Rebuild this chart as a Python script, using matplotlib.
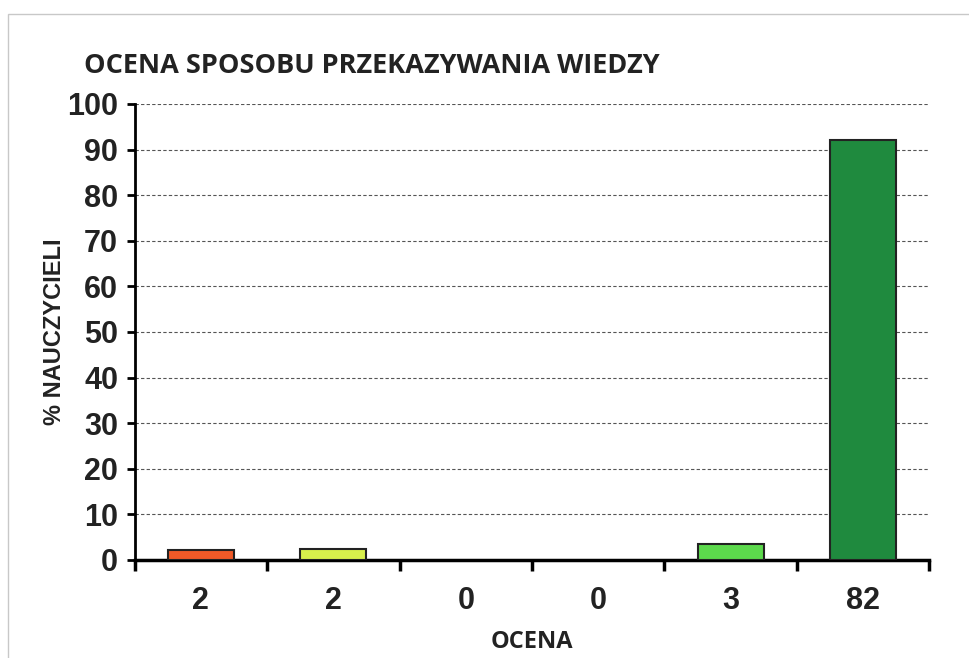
import matplotlib
matplotlib.use('Agg')
import matplotlib.pyplot as plt
from matplotlib.patches import Rectangle

counts = ['2', '2', '0', '0', '3', '82']
percent = [2.2, 2.4, 0, 0, 3.5, 92.1]
colors = ['#F05A28', '#D8F04C', '#F05A28', '#F05A28', '#5CD94C', '#1F8A3E']

fig = plt.figure(figsize=(9.69, 6.58), dpi=100)
ax = fig.add_axes([0.139, 0.149, 0.82, 0.693])

# frame around the chart
fig.patches.append(Rectangle((0.008, -0.01), 1.1, 0.988, transform=fig.transFigure,
                             fill=False, edgecolor='#c8c8c8', lw=1))

x = range(len(percent))
widths = [1.5 if p > 0 else 0 for p in percent]
ax.bar(x, percent, width=0.5, color=colors, edgecolor='#222222', linewidth=widths, zorder=3)

ax.set_xlim(-0.5, len(percent) - 0.5)
ax.set_ylim(0, 100)
ax.set_yticks(range(0, 101, 10))
ax.yaxis.grid(True, linestyle=(0, (3, 2)), color='#555555', linewidth=0.8)
ax.set_axisbelow(True)

ax.set_xticks([i - 0.5 for i in range(len(percent) + 1)])
ax.set_xticklabels([])
ax.set_xticks(list(x), minor=True)
ax.set_xticklabels(counts, minor=True)
ax.tick_params(axis='x', which='minor', length=0, pad=19)
ax.tick_params(axis='x', which='major', length=8, width=2.5, direction='out')
ax.tick_params(axis='y', length=6, width=2, direction='out', pad=6)

for lbl in ax.get_xticklabels(minor=True) + ax.get_yticklabels():
    lbl.set_fontfamily('Liberation Sans')
    lbl.set_fontweight('bold')
    lbl.set_fontsize(22)
    lbl.set_color('#222222')

for s in ['top', 'right']:
    ax.spines[s].set_visible(False)
ax.spines['left'].set_linewidth(2)
ax.spines['bottom'].set_linewidth(2.5)

ax.set_ylabel('% NAUCZYCIELI', fontfamily='Liberation Sans', fontweight='bold',
              fontsize=17, color='#222222', labelpad=1)
ax.set_xlabel('OCENA', fontfamily='Open Sans', fontweight='bold',
              fontsize=17, color='#222222', labelpad=10)

fig.text(0.087, 0.9, 'OCENA SPOSOBU PRZEKAZYWANIA WIEDZY', fontfamily='Open Sans',
         fontweight='bold', fontsize=19.5, color='#222222', ha='left', va='center')

fig.savefig('out.png', dpi=100)
